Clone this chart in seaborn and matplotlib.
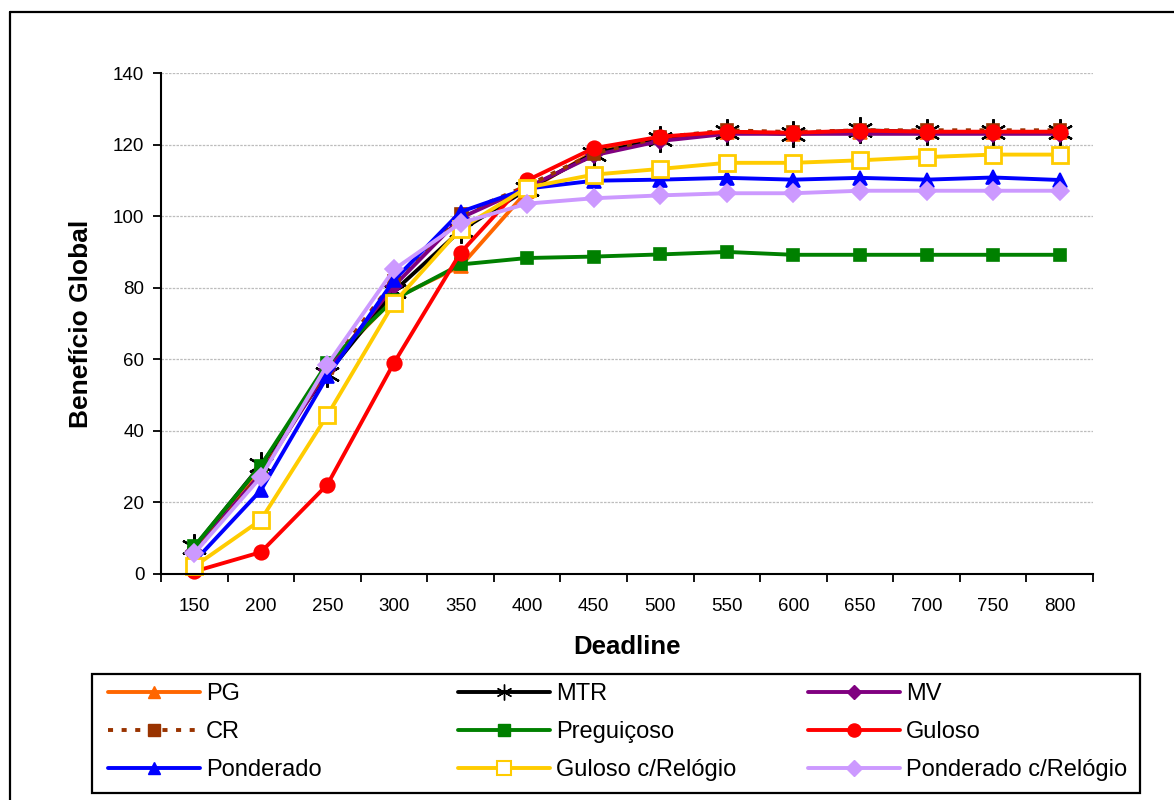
import matplotlib
matplotlib.use("Agg")
import matplotlib.pyplot as plt
from matplotlib.lines import Line2D
from matplotlib.patches import Rectangle
from matplotlib.ticker import MultipleLocator
import seaborn as sns

deadlines = [150, 200, 250, 300, 350, 400, 450, 500, 550, 600, 650, 700, 750, 800]

pg = [7, 29, 58, 77, 86, 107, 118, 122, 123.5, 123, 123.5, 123.5, 123.5, 123.5]
mtr = [7.5, 30.5, 56, 79, 96, 107.5, 117.5, 121.5, 123.5, 123, 124, 123.5, 123.5, 123.5]
mv = [6.5, 28, 57, 80.5, 99.5, 108, 117, 121, 123, 123, 123, 123, 123, 123]
cr = [6, 28, 57.5, 82, 100.5, 108.5, 117.5, 122, 124, 123.5, 124, 124, 124, 124]
preguicoso = [7.7, 30.3, 59, 76.7, 86.5, 88.3, 88.7, 89.3, 90, 89.2, 89.2, 89.2, 89.2, 89.2]
guloso = [0.7, 6.1, 25, 59, 89.8, 110, 119, 122.2, 123.6, 123.3, 123.9, 123.6, 123.6, 123.6]
ponderado = [3.5, 23.4, 55.3, 82.1, 101.2, 107.7, 109.9, 110.2, 110.7, 110.2, 110.7, 110.2, 110.8, 110.1]
guloso_rel = [2.1, 15.1, 44.4, 75.8, 96.5, 108, 111.6, 113.2, 114.9, 114.9, 115.6, 116.5, 117.2, 117.2]
ponderado_rel = [5.8, 27.1, 58.5, 85.1, 98.1, 103.5, 105, 105.8, 106.4, 106.4, 107.1, 107.1, 107.1, 107.1]

# (label, values, color, marker, markersize, facecolor, linestyle)
series = [
    ("PG", pg, "#FF6600", "^", 10, None, "-"),
    ("MTR", mtr, "black", (6, 2, 0), 19, None, "-"),
    ("MV", mv, "#800080", "D", 8, None, "-"),
    ("CR", cr, "#993300", "s", 9, None, (0, (1.3, 2.2))),
    ("Preguiçoso", preguicoso, "#008000", "s", 9, None, "-"),
    ("Guloso", guloso, "#FF0000", "o", 10.5, None, "-"),
    ("Ponderado", ponderado, "#0000FF", "^", 10, None, "-"),
    ("Guloso c/Relógio", guloso_rel, "#FFCC00", "s", 11, "white", "-"),
    ("Ponderado c/Relógio", ponderado_rel, "#CC99FF", "D", 9, None, "-"),
]

sns.set_style("white")
plt.rcParams["font.family"] = ["Liberation Sans", "DejaVu Sans"]
plt.rcParams["text.color"] = "black"
plt.rcParams["axes.labelcolor"] = "black"
plt.rcParams["xtick.color"] = "black"
plt.rcParams["ytick.color"] = "black"

fig = plt.figure(figsize=(11.74, 8.0), dpi=100)
ax = fig.add_axes([161 / 1174, 1 - 574 / 800, 932 / 1174, 501 / 800])

handles = {}
for name, vals, color, marker, ms, face, ls in series:
    edge_w = 2 if face else (1.6 if name == "MTR" else 1.2)
    sns.lineplot(x=deadlines, y=vals, ax=ax, color=color, marker=marker,
                 markersize=ms, markeredgecolor=color,
                 markerfacecolor=face if face else color,
                 markeredgewidth=edge_w,
                 linestyle=ls, linewidth=2.8, clip_on=False, legend=False)
    legend_ms = ms * 0.6 if name == "MTR" else ms * 0.9
    handles[name] = Line2D([], [], color=color, marker=marker,
                           markersize=legend_ms, markeredgecolor=color,
                           markerfacecolor=face if face else color,
                           markeredgewidth=1.5 if face else 1.0,
                           linestyle=ls, linewidth=2.8)

ax.set_xlim(125, 825)
ax.set_ylim(0, 140)
ax.set_xticks(deadlines)
ax.xaxis.set_minor_locator(MultipleLocator(50, offset=25))
ax.yaxis.set_major_locator(MultipleLocator(20))
ax.tick_params(axis="x", which="major", length=0, pad=17, labelsize=13.5)
ax.tick_params(axis="x", which="minor", length=6, width=1.3, direction="out",
               color="black", bottom=True)
ax.tick_params(axis="y", which="major", length=6, width=1.3, direction="out",
               color="black", left=True, pad=6, labelsize=13.5)

ax.grid(False)
ax.yaxis.grid(True, color="#bdbdbd", linestyle=(0, (2, 1)), linewidth=0.9)
for side in ["top", "right"]:
    ax.spines[side].set_visible(False)
for side in ["left", "bottom"]:
    ax.spines[side].set_color("black")
    ax.spines[side].set_linewidth(1.5)

ax.set_xlabel("Deadline", fontsize=18.5, fontweight="bold", va="top")
ax.set_ylabel("Benefício Global", fontsize=19, fontweight="bold")
ax.xaxis.set_label_coords(0.5, -0.122)
ax.yaxis.set_label_coords(-0.073, 0.5)

# outer chart frame (only left and top edges visible in the reference)
fig.add_artist(Line2D([10 / 1174, 10 / 1174], [0, 1 - 12 / 800], color="black", lw=1.6))
fig.add_artist(Line2D([10 / 1174, 1], [1 - 12 / 800, 1 - 12 / 800], color="black", lw=1.6))

# legend box
fig.add_artist(Rectangle((92 / 1174, 1 - 793 / 800), 1048 / 1174, 119 / 800,
                         fill=False, edgecolor="black", lw=1.6))
columns = [["PG", "CR", "Ponderado"],
           ["MTR", "Preguiçoso", "Guloso c/Relógio"],
           ["MV", "Guloso", "Ponderado c/Relógio"]]
col_x = [108, 458, 808]
for names, x in zip(columns, col_x):
    leg = fig.legend([handles[n] for n in names], names, loc="upper left",
                     bbox_to_anchor=(x / 1174, 1 - 683 / 800), frameon=False,
                     borderpad=0, borderaxespad=0, handlelength=3.9,
                     handletextpad=0.25, labelspacing=0.68, fontsize=17)

fig.savefig("out.png", dpi=100)
